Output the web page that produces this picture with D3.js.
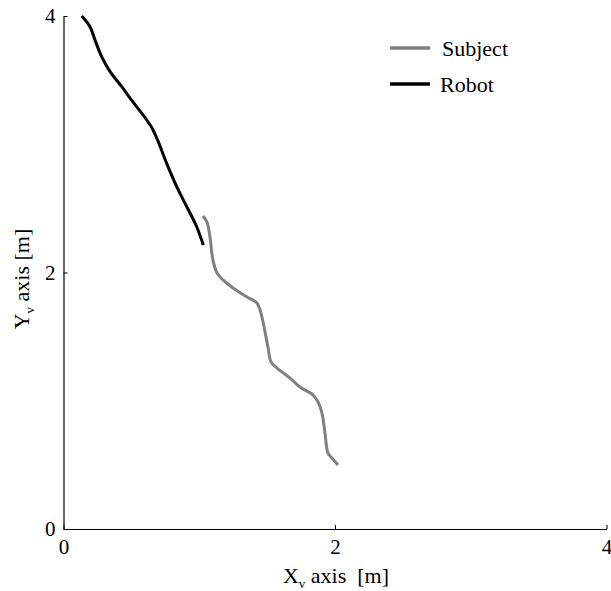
<!DOCTYPE html>
<html>
<head>
<meta charset="utf-8">
<script src="https://cdn.jsdelivr.net/npm/d3@7"></script>
<style>
  body { margin: 0; background: #fff; }
  text { font-family: "Liberation Serif", "Times New Roman", serif; fill: #000; white-space: pre; }
</style>
</head>
<body>
<div id="chart"></div>
<script>
// Trajectories, in metres
const subjectX = [1.028, 1.057, 1.079, 1.101, 1.131, 1.175, 1.249, 1.352, 1.425, 1.448, 1.470, 1.506, 1.529, 1.573, 1.669, 1.742, 1.838, 1.875, 1.904, 1.926, 1.948, 1.977, 2.022];
const subjectY = [2.441, 2.394, 2.277, 2.097, 1.996, 1.942, 1.879, 1.809, 1.762, 1.708, 1.614, 1.419, 1.302, 1.255, 1.177, 1.107, 1.045, 0.990, 0.904, 0.749, 0.593, 0.554, 0.499];
const robotX = [0.134, 0.195, 0.232, 0.281, 0.343, 0.429, 0.514, 0.600, 0.650, 0.698, 0.760, 0.834, 0.908, 0.981, 1.030];
const robotY = [4.000, 3.917, 3.813, 3.683, 3.566, 3.449, 3.326, 3.209, 3.131, 3.020, 2.851, 2.669, 2.513, 2.357, 2.214];
const xTicks = [0, 2, 4];
const yTicks = [0, 2, 4];
const seriesNames = ["Subject", "Robot"];
const seriesColors = ["#808080", "#000000"];

const width = 611, height = 591;
const svg = d3.select("#chart").append("svg")
    .attr("width", width)
    .attr("height", height);

const x = d3.scaleLinear().domain([0, 4]).range([63.5, 606.5]);
const y = d3.scaleLinear().domain([0, 4]).range([529, 16]);

// axes (MATLAB style, ticks pointing inward)
const xAxis = svg.append("g")
    .attr("transform", `translate(0,${y(0)})`)
    .call(d3.axisBottom(x).tickValues(xTicks).tickFormat(d3.format("d"))
        .tickSize(-4).tickPadding(10).tickSizeOuter(0));
const yAxis = svg.append("g")
    .attr("transform", `translate(${x(0)},0)`)
    .call(d3.axisLeft(y).tickValues(yTicks).tickFormat(d3.format("d"))
        .tickSize(-4).tickPadding(8).tickSizeOuter(0));

[xAxis, yAxis].forEach(g => {
    g.attr("font-family", '"Liberation Serif", serif').attr("font-size", 21);
    g.select(".domain").attr("stroke", "#000").attr("stroke-width", 1.2);
    g.selectAll(".tick line").attr("stroke", "#000").attr("stroke-width", 1);
    g.selectAll(".tick text").attr("fill", "#000");
});
xAxis.selectAll(".tick text").attr("y", 6).attr("dy", "0.9em");

// axis titles
const xl = svg.append("text")
    .attr("x", 336).attr("y", 583)
    .attr("text-anchor", "middle")
    .style("font-size", "22px");
xl.append("tspan").text("X");
xl.append("tspan").text("v").style("font-size", "13px").attr("dy", 5);
xl.append("tspan").text(" axis  [m]").attr("dy", -5);

const yl = svg.append("text")
    .attr("transform", "translate(29,279) rotate(-90)")
    .attr("text-anchor", "middle")
    .style("font-size", "22px");
yl.append("tspan").text("Y");
yl.append("tspan").text("v").style("font-size", "13px").attr("dy", 5);
yl.append("tspan").text(" axis [m]").attr("dy", -5);

// trajectories
const line = d3.line()
    .x(d => x(d[0]))
    .y(d => y(d[1]))
    .curve(d3.curveCatmullRom.alpha(0.5));

const subject = subjectX.map((v, i) => [v, subjectY[i]]);
const robot = robotX.map((v, i) => [v, robotY[i]]);

svg.append("path")
    .datum(subject)
    .attr("d", line)
    .attr("fill", "none")
    .attr("stroke", seriesColors[0])
    .attr("stroke-width", 3);

svg.append("path")
    .datum(robot)
    .attr("d", line)
    .attr("fill", "none")
    .attr("stroke", seriesColors[1])
    .attr("stroke-width", 3);

// legend
const legend = svg.append("g");
seriesNames.forEach((name, i) => {
    const ly = 48 + i * 36;
    legend.append("line")
        .attr("x1", 390).attr("x2", 430)
        .attr("y1", ly).attr("y2", ly)
        .attr("stroke", seriesColors[i])
        .attr("stroke-width", 3.5);
    legend.append("text")
        .attr("x", i === 0 ? 442 : 440)
        .attr("y", ly)
        .attr("dy", "0.35em")
        .style("font-size", "22px")
        .text(name);
});
</script>
</body>
</html>
